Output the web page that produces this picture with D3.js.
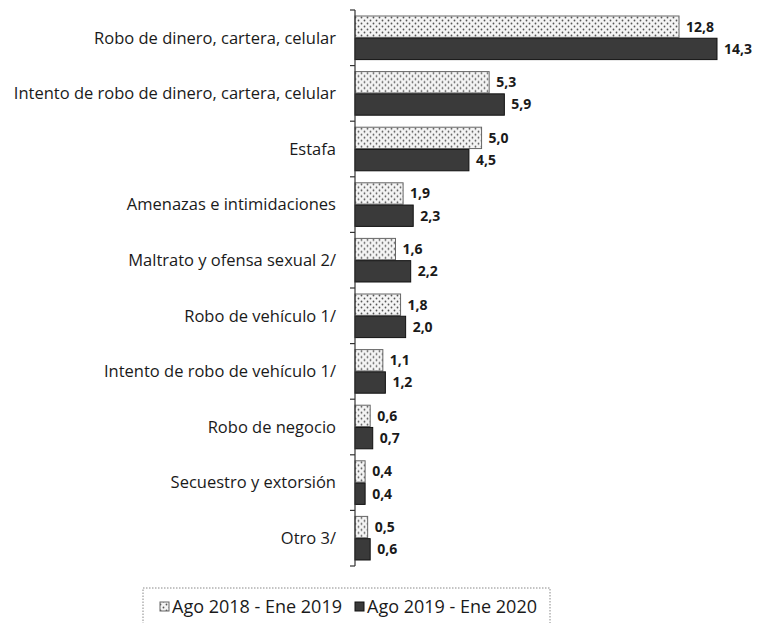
<!DOCTYPE html>
<html>
<head>
<meta charset="utf-8">
<script src="https://cdn.jsdelivr.net/npm/d3@7"></script>
<style>
  body { margin: 0; background: #fff; }
  svg { display: block; font-family: "Open Sans", Lato, sans-serif; }
</style>
</head>
<body>
<div id="chart"></div>
<script>
// --- data ---
const categories = [
  "Robo de dinero, cartera, celular",
  "Intento de robo de dinero, cartera, celular",
  "Estafa",
  "Amenazas e intimidaciones",
  "Maltrato y ofensa sexual 2/",
  "Robo  de vehículo 1/",
  "Intento de robo de vehículo 1/",
  "Robo de negocio",
  "Secuestro y extorsión",
  "Otro 3/"
];
const seriesNames = ["Ago 2018 - Ene 2019", "Ago 2019 - Ene 2020"];
const values2018 = [12.8, 5.3, 5.0, 1.9, 1.6, 1.8, 1.1, 0.6, 0.4, 0.5];
const values2019 = [14.3, 5.9, 4.5, 2.3, 2.2, 2.0, 1.2, 0.7, 0.4, 0.6];

const W = 761, H = 623;
const margin = {top: 10, right: 44, bottom: 57, left: 355};

const svg = d3.select("#chart").append("svg")
  .attr("width", W).attr("height", H);

// dotted pattern for the first series
const defs = svg.append("defs");
const pat = defs.append("pattern")
  .attr("id", "dots").attr("patternUnits", "userSpaceOnUse")
  .attr("width", 6).attr("height", 6);
pat.append("rect").attr("width", 6).attr("height", 6).attr("fill", "#f4f4f4");
pat.append("circle").attr("cx", 1.5).attr("cy", 1.5).attr("r", 0.9).attr("fill", "#555");
pat.append("circle").attr("cx", 4.5).attr("cy", 4.5).attr("r", 0.9).attr("fill", "#555");

const x = d3.scaleLinear().domain([0, 14.3]).range([margin.left, W - margin.right]);
const y = d3.scaleBand().domain(categories).range([margin.top, H - margin.bottom]);
const inner = d3.scaleBand().domain([0, 1]).range([6, y.bandwidth() - 6]).paddingInner(0.04);

const fills = ["url(#dots)", "#3a3a3a"];
const strokes = ["#666", "#111"];

const rows = categories.map((c, i) => ({cat: c, vals: [values2018[i], values2019[i]]}));

const g = svg.append("g");
const groups = g.selectAll(".grp").data(rows).join("g")
  .attr("transform", d => `translate(0,${y(d.cat)})`);

groups.selectAll("rect").data(d => d.vals).join("rect")
  .attr("x", x(0))
  .attr("y", (v, k) => inner(k))
  .attr("width", v => x(v) - x(0))
  .attr("height", inner.bandwidth())
  .attr("fill", (v, k) => fills[k])
  .attr("stroke", (v, k) => strokes[k])
  .attr("stroke-width", 1);

groups.selectAll("text.val").data(d => d.vals).join("text")
  .attr("class", "val")
  .attr("x", v => x(v) + 7)
  .attr("y", (v, k) => inner(k) + inner.bandwidth() / 2)
  .attr("dy", "0.35em")
  .attr("font-size", 14).attr("font-weight", "bold").attr("fill", "#1a1a1a")
  .text(v => d3.format(".1f")(v).replace(".", ","));

// axis with ticks at band boundaries
svg.append("line")
  .attr("x1", x(0)).attr("x2", x(0))
  .attr("y1", margin.top).attr("y2", H - margin.bottom)
  .attr("stroke", "#333").attr("stroke-width", 1.2);
const bounds = categories.map(c => y(c)).concat([y.range()[1]]);
svg.selectAll(".tk").data(bounds).join("line")
  .attr("x1", x(0) - 5).attr("x2", x(0))
  .attr("y1", d => d).attr("y2", d => d)
  .attr("stroke", "#333").attr("stroke-width", 1.2);

svg.selectAll(".cat").data(categories).join("text")
  .attr("x", x(0) - 19)
  .attr("y", d => y(d) + y.bandwidth() / 2)
  .attr("dy", "0.35em")
  .attr("text-anchor", "end")
  .attr("font-size", 16.5).attr("fill", "#1a1a1a")
  .text(d => d);

// legend
const lg = svg.append("g");
lg.append("rect")
  .attr("x", 143).attr("y", 588).attr("width", 407).attr("height", 40)
  .attr("fill", "#fff").attr("stroke", "#888").attr("stroke-dasharray", "1.5,1.5");
const legX = [160, 355];
seriesNames.forEach((s, k) => {
  lg.append("rect").attr("x", legX[k]).attr("y", 602).attr("width", 9).attr("height", 9)
    .attr("fill", fills[k]).attr("stroke", strokes[k]);
  lg.append("text").attr("x", legX[k] + 12).attr("y", 607).attr("dy", "0.35em")
    .attr("font-size", 18).attr("fill", "#1a1a1a").text(s);
});
</script>
</body>
</html>
